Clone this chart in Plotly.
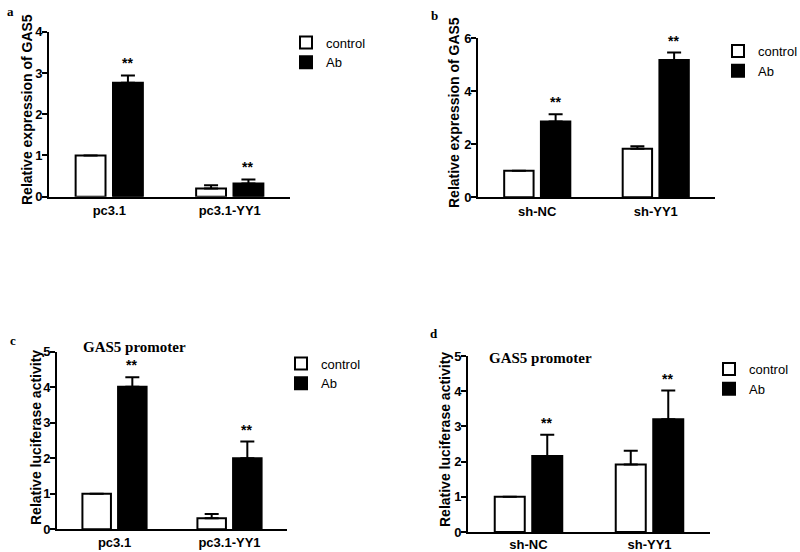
import plotly.graph_objects as go

# ---------------- data ----------------
cats_a = ["pc3.1", "pc3.1-YY1"]
ctrl_a = [1.0, 0.20]
ctrl_err_a = [0.0, 0.08]
ab_a = [2.76, 0.32]
ab_err_a = [0.18, 0.10]

cats_b = ["sh-NC", "sh-YY1"]
ctrl_b = [1.0, 1.83]
ctrl_err_b = [0.0, 0.10]
ab_b = [2.86, 5.18]
ab_err_b = [0.27, 0.28]

cats_c = ["pc3.1", "pc3.1-YY1"]
ctrl_c = [1.0, 0.31]
ctrl_err_c = [0.0, 0.12]
ab_c = [4.01, 2.00]
ab_err_c = [0.27, 0.47]

cats_d = ["sh-NC", "sh-YY1"]
ctrl_d = [1.0, 1.92]
ctrl_err_d = [0.0, 0.39]
ab_d = [2.16, 3.20]
ab_err_d = [0.60, 0.82]

sig_label = "**"
series_names = ["control", "Ab"]
panel_letters = ["a", "b", "c", "d"]
ytitles = ["Relative expression of GAS5", "Relative expression of GAS5",
           "Relative luciferase activity", "Relative luciferase activity"]
yranges = [[0, 4], [0, 6], [0, 5], [0, 5]]
ydticks = [1, 2, 1, 1]
panel_title = "GAS5 promoter"

W, H = 800, 552
SANS = "Arial, Liberation Sans, sans-serif"
SERIF = "Times New Roman, Liberation Serif, serif"

# panel geometry in pixels: x0, x1, ytop, ybottom
geo = [
    (49, 290, 31.7, 196.7),
    (478, 715, 38.3, 197.3),
    (57, 287, 351.7, 529.3),
    (468, 710, 356.0, 532.0),
]
xlabel_standoff = [1, 1, 0, -1]
legend_pos = [(286, 27.5), (718, 36), (281, 348.5), (709, 354)]
letter_pos = [(5, 12), (429, 15), (8, 340), (428, 333)]
title_pos = [None, None, (134, 347), (540, 358)]
ytitle_pos = [(27, 110), (454, 113), (36, 438), (445, 440)]

panels = [
    (cats_a, ctrl_a, ctrl_err_a, ab_a, ab_err_a),
    (cats_b, ctrl_b, ctrl_err_b, ab_b, ab_err_b),
    (cats_c, ctrl_c, ctrl_err_c, ab_c, ab_err_c),
    (cats_d, ctrl_d, ctrl_err_d, ab_d, ab_err_d),
]

fig = go.Figure()
annotations = []
layout = {}

for i, (cats, ctrl, ctrl_err, ab, ab_err) in enumerate(panels):
    n = "" if i == 0 else str(i + 1)
    xa, ya = "x" + n, "y" + n
    leg = "legend" + n
    for name, vals, errs, color in [
        (series_names[0], ctrl, ctrl_err, "white"),
        (series_names[1], ab, ab_err, "black"),
    ]:
        fig.add_trace(go.Bar(
            x=cats, y=vals, name=name, xaxis=xa, yaxis=ya, legend=leg,
            marker=dict(color=color, line=dict(color="black", width=2)),
            error_y=dict(type="data", symmetric=False, array=errs,
                         arrayminus=[0] * len(errs), color="black",
                         thickness=2, width=7, visible=True),
            showlegend=True, hoverinfo="skip",
        ))
    x0, x1, yt, yb = geo[i]
    layout["xaxis" + n] = dict(
        domain=[x0 / W, x1 / W], anchor=ya, type="category",
        range=[-0.5, 1.5], showline=True, linecolor="black", linewidth=2,
        ticks="", showgrid=False, zeroline=False,
        ticklabelstandoff=xlabel_standoff[i],
        tickfont=dict(family=SANS, size=13, color="black", weight="bold"),
    )
    layout["yaxis" + n] = dict(
        domain=[1 - yb / H, 1 - yt / H], anchor=xa, range=yranges[i],
        dtick=ydticks[i], showline=True, linecolor="black", linewidth=2,
        ticks="outside", ticklen=5, tickwidth=2, tickcolor="black",
        showgrid=False, zeroline=False, ticklabelstandoff=-3,
        tickfont=dict(family=SANS, size=13, color="black", weight="bold"),
    )
    # y-axis title
    tx_, ty_ = ytitle_pos[i]
    annotations.append(dict(
        x=tx_ / W, y=1 - ty_ / H, xref="paper", yref="paper",
        text=ytitles[i], showarrow=False, textangle=-90,
        xanchor="center", yanchor="middle",
        font=dict(family=SANS, size=14, color="black", weight="bold"),
    ))
    lx, ly = legend_pos[i]
    layout[leg] = dict(
        x=lx / W, y=1 - ly / H, xanchor="left", yanchor="top",
        font=dict(family=SANS, size=13, color="black"),
        bgcolor="rgba(0,0,0,0)", tracegroupgap=0, itemsizing="constant",
    )
    # significance stars over the Ab bars
    for j in range(len(cats)):
        annotations.append(dict(
            x=j + 0.15, y=ab[j] + ab_err[j], xref=xa, yref=ya,
            text=sig_label, showarrow=False, yanchor="bottom", yshift=2,
            font=dict(family=SANS, size=14, color="black", weight="bold"),
        ))
    # panel letters
    px, py = letter_pos[i]
    annotations.append(dict(
        x=px / W, y=1 - py / H, xref="paper", yref="paper",
        text=panel_letters[i], showarrow=False, xanchor="left", yanchor="middle",
        font=dict(family=SERIF, size=13, color="black", weight="bold"),
    ))
    if title_pos[i]:
        tx, ty = title_pos[i]
        annotations.append(dict(
            x=tx / W, y=1 - ty / H, xref="paper", yref="paper",
            text=panel_title, showarrow=False, xanchor="center", yanchor="middle",
            font=dict(family=SERIF, size=15, color="black", weight="bold"),
        ))

fig.update_layout(
    width=W, height=H, margin=dict(l=0, r=0, t=0, b=0, autoexpand=False),
    paper_bgcolor="white", plot_bgcolor="white",
    barmode="group", bargap=0.38, bargroupgap=0.2,
    annotations=annotations, **layout,
)

fig.write_html("out.html", config={"displayModeBar": False},
               post_script="document.body.style.margin='0';")
